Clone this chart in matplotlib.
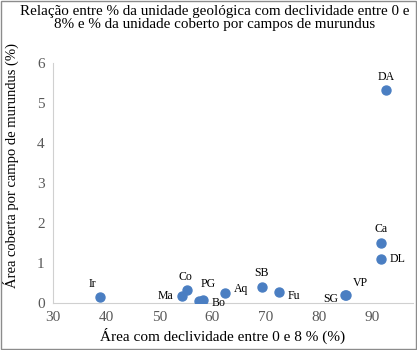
import matplotlib
matplotlib.use("Agg")
import matplotlib.pyplot as plt
from matplotlib.patches import Rectangle

# data
names = ['Ir', 'Ma', 'Co', 'PG', 'Bo', 'Aq', 'SB', 'Fu', 'SG', 'VP', 'Ca', 'DL', 'DA']
decliv = [38.8, 54.3, 55.2, 57.4, 58.3, 62.4, 69.3, 72.6, 85.0, 85.2, 91.8, 91.8, 92.6]
cobertura = [0.16, 0.18, 0.33, 0.05, 0.08, 0.25, 0.39, 0.27, 0.20, 0.21, 1.49, 1.09, 5.33]

# label offsets in points (dx, dy, ha)
offsets = {
    'Ir': (-5, 5, 'center'), 'Ma': (-6, 0, 'right'), 'Co': (-1, 5, 'center'),
    'PG': (7, 8, 'center'), 'Bo': (6, -2, 'left'), 'Aq': (6, 3, 'left'),
    'SB': (0, 6, 'center'), 'Fu': (6, -3, 'left'), 'SG': (-5, -3, 'right'),
    'VP': (5, 4, 'left'), 'Ca': (0, 6, 'center'), 'DL': (6, 0, 'left'),
    'DA': (0, 5, 'center'),
}

plt.rcParams['font.family'] = ['Liberation Serif', 'DejaVu Serif']

fig = plt.figure(figsize=(4.17, 3.5), dpi=100)
ax = fig.add_axes([0.127, 0.134, 0.863, 0.686])

ax.scatter(decliv, cobertura, s=42, color='#4a7ec2', zorder=3)
for n, x, y in zip(names, decliv, cobertura):
    dx, dy, ha = offsets[n]
    va = 'bottom' if dy > 3 else ('top' if dy < -3 else 'center')
    ax.annotate(n, (x, y), xytext=(dx, dy), textcoords='offset points',
                ha=ha, va=va, fontsize=8.5, color='black')

ax.set_xlim(30, 97.7)
ax.set_ylim(0, 6)
ax.set_xticks([30, 40, 50, 60, 70, 80, 90])
ax.set_yticks(range(0, 7))
for s in ['top', 'right']:
    ax.spines[s].set_visible(False)
for s in ['left', 'bottom']:
    ax.spines[s].set_color('#d0d0d0')
ax.tick_params(length=0, labelsize=11, labelcolor='#595959', pad=6)

ax.set_xlabel('Área com declividade entre 0 e 8 % (%)', fontsize=11)
ax.xaxis.set_label_coords(0.47, -0.105)
ax.set_ylabel('Área coberta por campo de murundus (%)', fontsize=10.5)
ax.yaxis.set_label_coords(-0.095, 0.575)

fig.text(0.515, 0.985, 'Relação entre % da unidade geológica com declividade entre 0 e\n'
         '8% e % da unidade coberto por campos de murundus',
         ha='center', va='top', fontsize=10.8, linespacing=1.0)

fig.patches.append(Rectangle((0.002, 0.003), 0.995, 0.994, transform=fig.transFigure,
                             fill=False, edgecolor='#8c8c8c', linewidth=1))

fig.savefig('out.png', dpi=100)
